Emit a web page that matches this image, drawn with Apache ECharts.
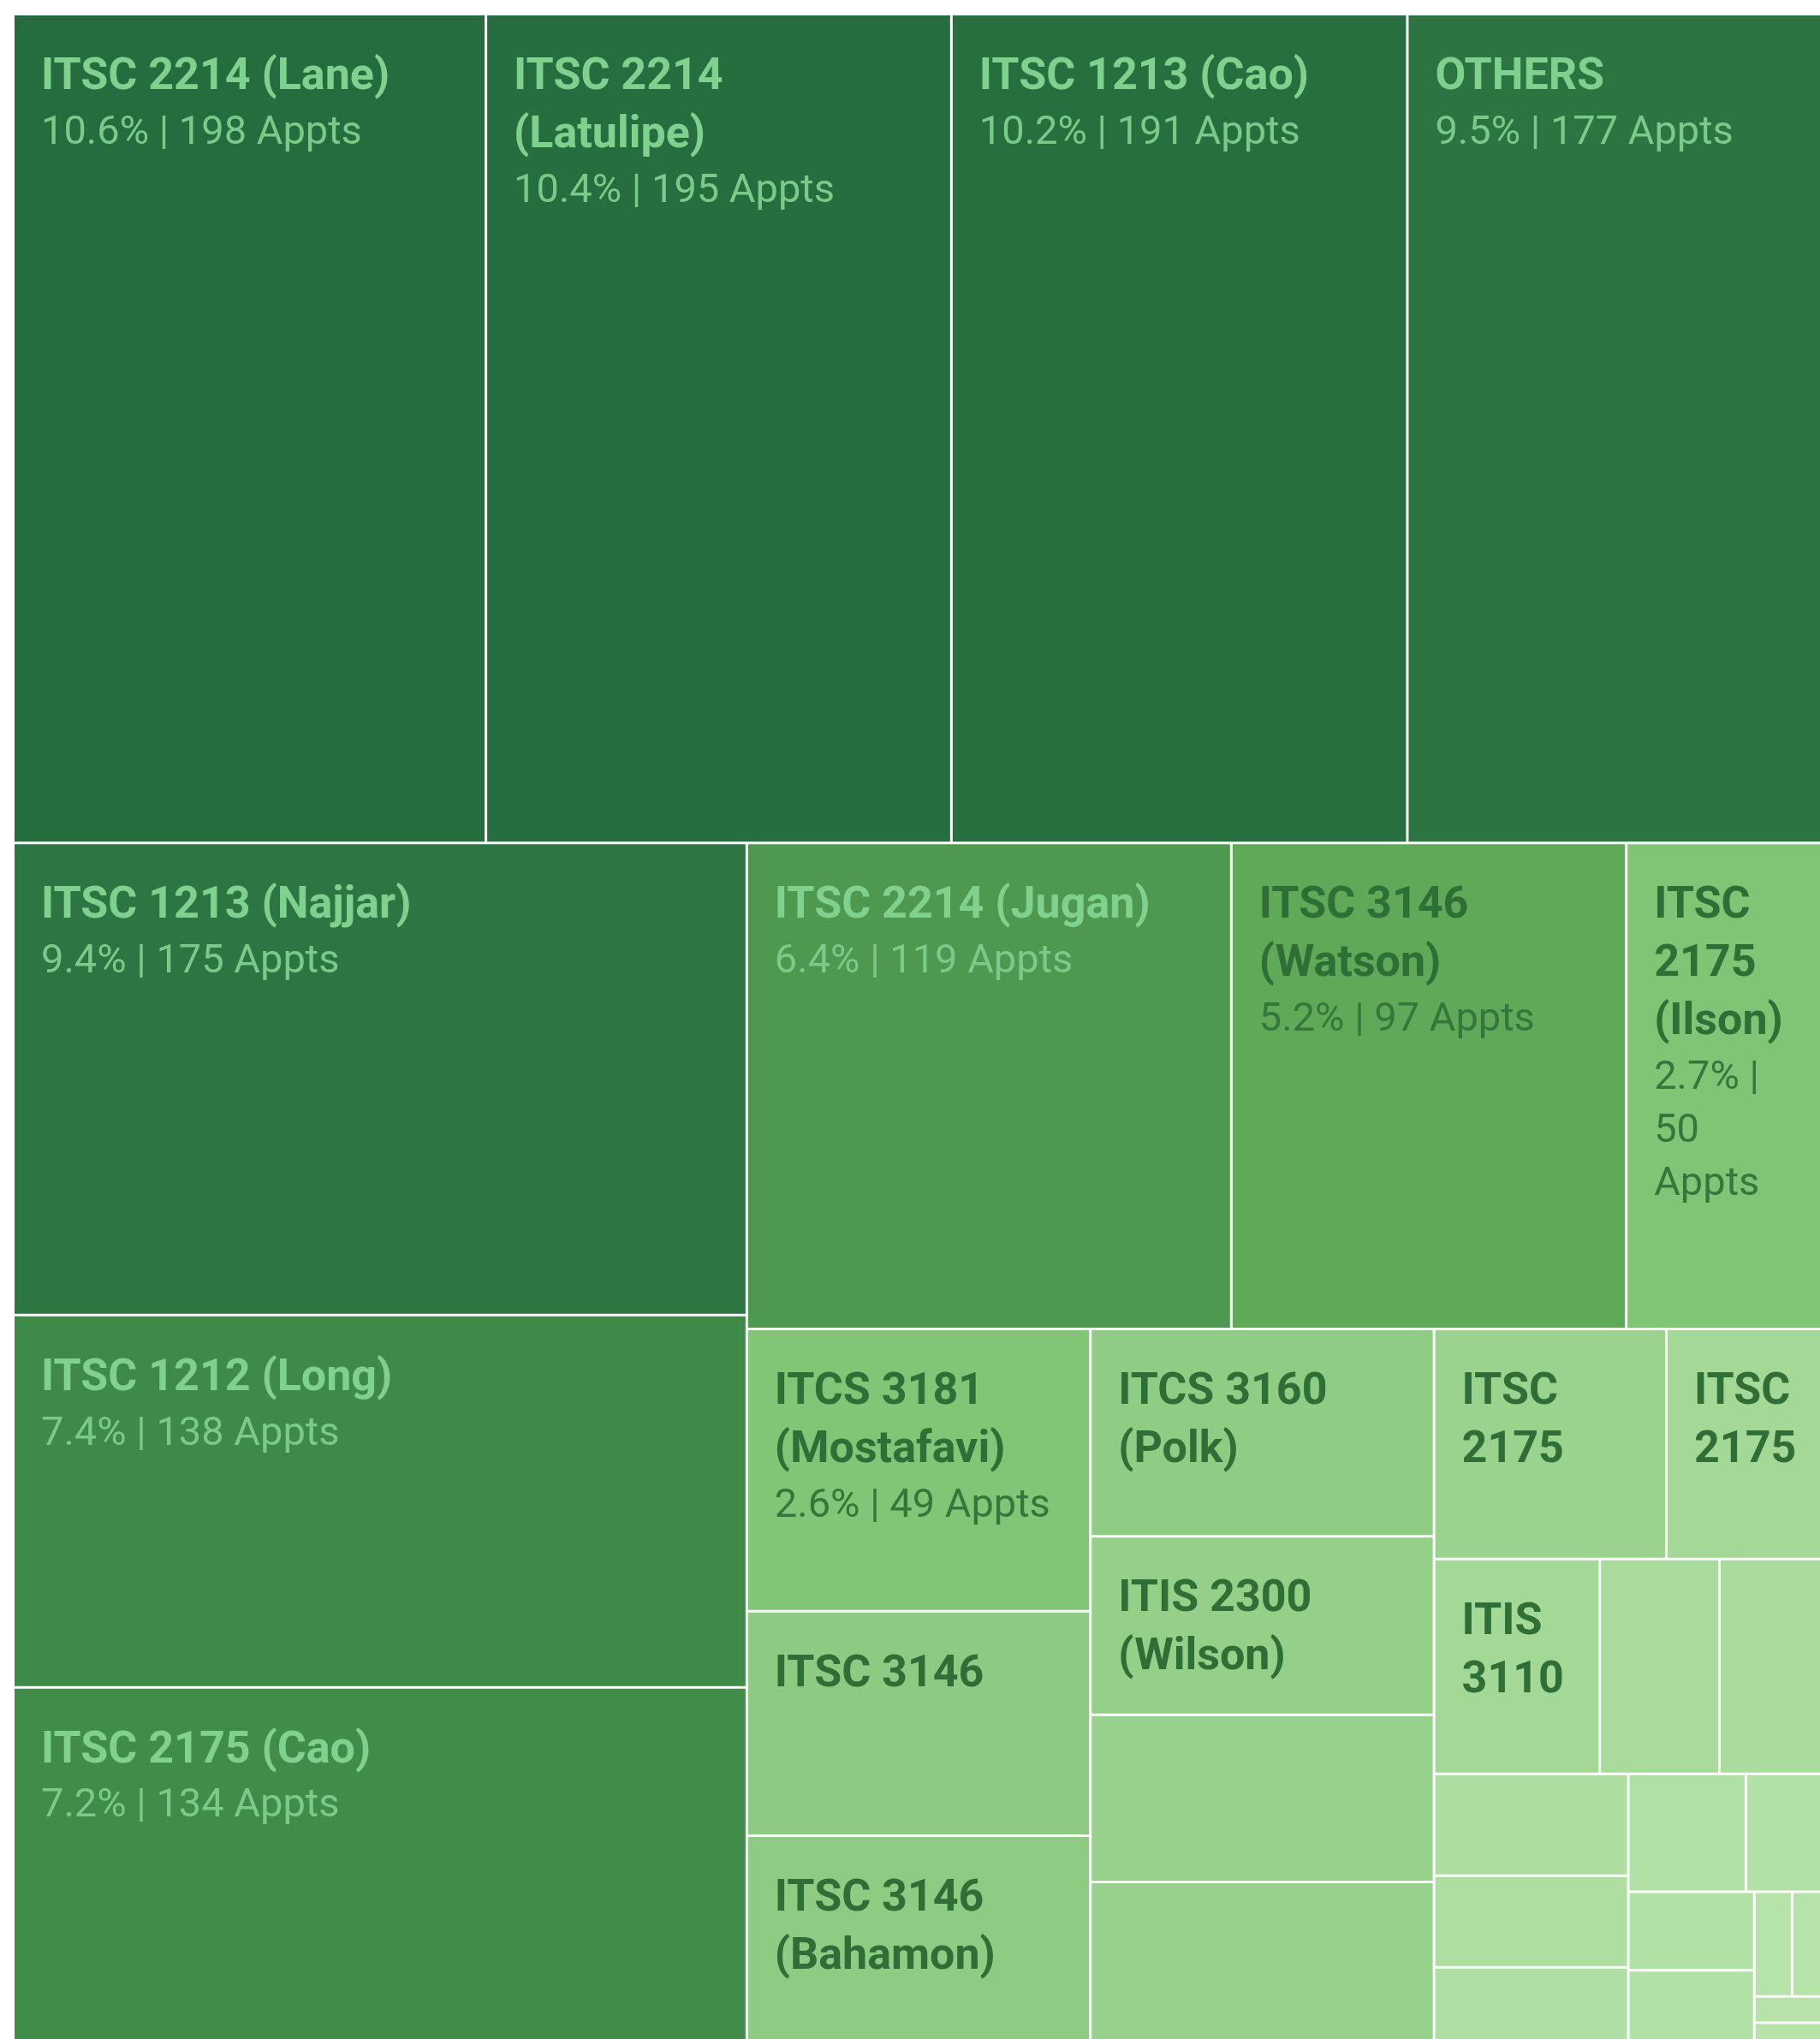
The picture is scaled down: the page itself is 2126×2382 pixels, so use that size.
<!DOCTYPE html>
<html><head><meta charset="utf-8">
<script src="https://cdn.jsdelivr.net/npm/echarts@6/dist/echarts.min.js"></script>
<style>html,body{margin:0;padding:0;background:#fff;overflow:hidden}#c{width:2126px;height:2382px}</style>
</head><body><div id="c"></div>
<script>
// Course sections (labels as visible in the reference; '' = no visible label)
const names = [
  'ITSC 2214 (Lane)', 'ITSC 2214 (Latulipe)', 'ITSC 1213 (Cao)', 'OTHERS',
  'ITSC 1213 (Najjar)', 'ITSC 1212 (Long)', 'ITSC 2175 (Cao)',
  'ITSC 2214 (Jugan)', 'ITSC 3146 (Watson)', 'ITSC 2175 (Ilson)',
  'ITCS 3181 (Mostafavi)', 'ITSC 3146', 'ITSC 3146 (Bahamon)',
  'ITCS 3160 (Polk)', 'ITIS 2300 (Wilson)', '', '',
  'ITSC 2175', 'ITSC 2175',
  'ITIS 3110', '', '',
  '', '', '',
  '', '',
  '', '',
  '', '',
  '', ''
];
// Appointment counts
const appts = [
  198, 195, 191, 177,
  175, 138, 134,
  119, 97, 50,
  49, 39, 37,
  36, 31, 29, 29,
  27, 19,
  18, 13, 12,
  10, 9, 8,
  7, 5,
  5, 5,
  2, 2,
  1, 1
];
// Share of all appointments (only where shown in the reference)
const shares = ['10.6%', '10.4%', '10.2%', '9.5%', '9.4%', '7.4%', '7.2%', '6.4%', '5.2%', '2.7%', '2.6%'];
// Sequential green ramp (light -> dark)
const ramp = ['#b8e4aa', '#80c475', '#5ea756', '#357f45', '#246b3e'];
const LIGHT_TEXT_MIN = 100;

const data = appts.map((v, i) => ({ name: names[i], value: v, share: shares[i] || null }));

const FONT = 'Roboto';
const TITLE_SIZE = 52, STATS_SIZE = 47;
const PAD = [39, 36, 0, 31];

const measureCtx = document.createElement('canvas').getContext('2d');
function wrapWords(text, font, maxW) {
  measureCtx.font = font;
  const words = text.split(' ');
  const lines = [];
  let cur = '';
  words.forEach(w => {
    const trial = cur ? cur + ' ' + w : w;
    if (!cur || measureCtx.measureText(trial).width <= maxW) cur = trial;
    else { lines.push(cur); cur = w; }
  });
  if (cur) lines.push(cur);
  return lines;
}

let chart = null;
function cellWidth(p) {
  try {
    const sm = chart.getModel().getSeriesByIndex(0);
    const node = sm.getData().tree.getNodeByDataIndex(p.dataIndex);
    const lay = node && node.getLayout();
    if (lay && lay.width) return lay.width;
  } catch (e) {}
  return 1e9;
}

chart = echarts.init(document.getElementById('c'), null, { renderer: 'canvas' });
chart.setOption({
  animation: false,
  series: [{
    type: 'treemap',
    left: 17, top: 18, width: 2119, height: 2374,
    roam: false, nodeClick: false,
    breadcrumb: { show: false },
    squareRatio: 0.5 * (1 + Math.sqrt(5)),
    itemStyle: { borderWidth: 0, gapWidth: 3, borderColor: '#ffffff' },
    levels: [{
      color: ramp,
      colorMappingBy: 'value',
      visualMin: 0,
      visualMax: 200,
      itemStyle: { borderWidth: 0, gapWidth: 3, borderColor: '#ffffff' }
    }, {
      itemStyle: { borderWidth: 0, gapWidth: 0 }
    }],
    label: {
      show: true,
      position: 'insideTopLeft',
      padding: PAD,
      overflow: 'none',
      fontFamily: FONT,
      formatter: function (p) {
        if (!p.name) return '';
        const light = p.value >= LIGHT_TEXT_MIN;
        const t = light ? 'tl' : 'td';
        const s = light ? 'sl' : 'sd';
        const maxW = cellWidth(p) - PAD[1] - PAD[3];
        const out = [];
        wrapWords(p.name, 'bold ' + TITLE_SIZE + 'px ' + FONT, maxW)
          .forEach(l => out.push('{' + t + '|' + l + '}'));
        if (p.data && p.data.share) {
          wrapWords(p.data.share + ' | ' + p.value + ' Appts', STATS_SIZE + 'px ' + FONT, maxW)
            .forEach(l => out.push('{' + s + '|' + l + '}'));
        }
        return out.join('\n');
      },
      rich: {
        tl: { fontFamily: FONT, fontWeight: 'bold', fontSize: TITLE_SIZE, lineHeight: 68, color: '#80d08e' },
        sl: { fontFamily: FONT, fontWeight: 'normal', fontSize: STATS_SIZE, lineHeight: 62, color: '#7bca89' },
        td: { fontFamily: FONT, fontWeight: 'bold', fontSize: TITLE_SIZE, lineHeight: 68, color: '#2f6f37' },
        sd: { fontFamily: FONT, fontWeight: 'normal', fontSize: STATS_SIZE, lineHeight: 62, color: '#36763d' }
      }
    },
    upperLabel: { show: false },
    emphasis: { disabled: true },
    data: data
  }]
});
</script>
</body></html>
